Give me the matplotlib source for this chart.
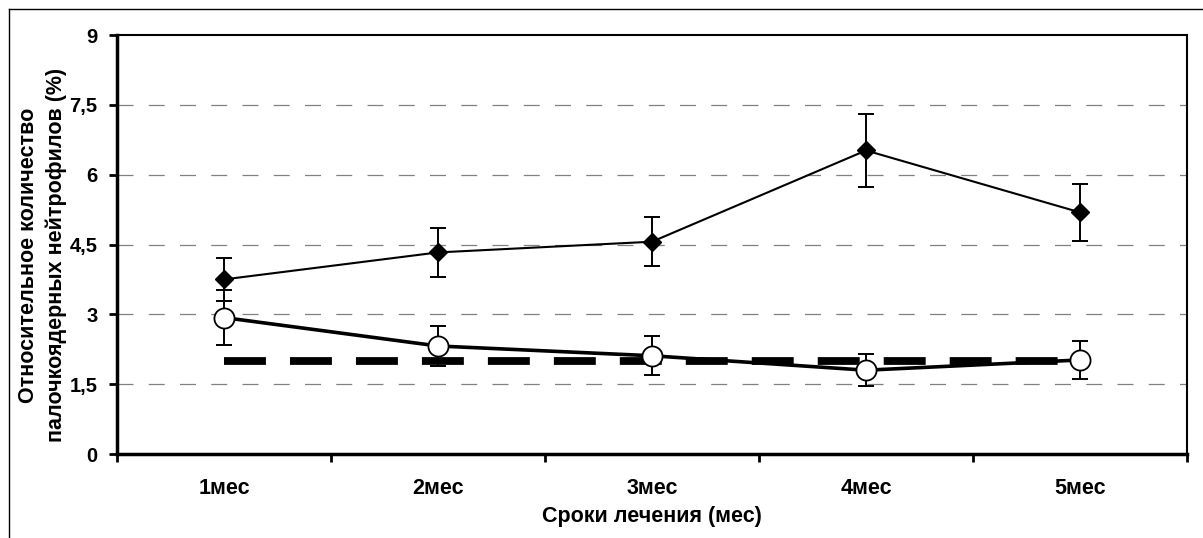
import matplotlib
matplotlib.use("Agg")
import matplotlib.pyplot as plt
import numpy as np
from matplotlib.lines import Line2D

plt.rcParams['font.family'] = ['Liberation Sans', 'DejaVu Sans']
plt.rcParams['font.weight'] = 'bold'
plt.rcParams['lines.scale_dashes'] = False

# ---- data ----
categories = ['1мес', '2мес', '3мес', '4мес', '5мес']
series_a = [3.75, 4.33, 4.56, 6.52, 5.19]      # filled diamonds
series_a_err = [0.46, 0.53, 0.53, 0.79, 0.62]
series_b = [2.93, 2.32, 2.11, 1.80, 2.02]      # open circles
series_b_err = [0.59, 0.43, 0.42, 0.34, 0.40]
norm_line = [2.0, 2.0, 2.0, 2.0, 2.0]          # thick dashed reference
y_ticks = [0, 1.5, 3, 4.5, 6, 7.5, 9]
y_ticklabels = ['0', '1,5', '3', '4,5', '6', '7,5', '9']
x_title = 'Сроки лечения (мес)'
y_title = 'Относительное количество\nпалочкоядерных нейтрофилов (%)'

W, H = 1203, 538
fig = plt.figure(figsize=(W / 100, H / 100), dpi=100)
ax = fig.add_axes([117 / W, 1 - 454 / H, (1187 - 117) / W, (454 - 35) / H])

x = np.arange(len(categories)) + 0.5

# gridlines
for yv in y_ticks[1:-1]:
    ax.axhline(yv, color='#808080', lw=0.9, dashes=(11.5, 11.0), zorder=1)

# reference dashed line
ax.plot(x, norm_line, color='black', lw=5.6, dashes=(30.2, 17.3),
        solid_capstyle='butt', dash_capstyle='butt', zorder=2)

# circle series
ax.errorbar(x, series_b, yerr=series_b_err, fmt='none', ecolor='black',
            elinewidth=1.4, capsize=5.6, capthick=1.4, zorder=3)
ax.plot(x, series_b, color='black', lw=2.6, marker='o', ms=14.5,
        mfc='white', mec='black', mew=1.3, zorder=4)

# diamond series
ax.errorbar(x, series_a, yerr=series_a_err, fmt='none', ecolor='black',
            elinewidth=1.4, capsize=5.6, capthick=1.4, zorder=3)
ax.plot(x, series_a, color='black', lw=1.5, marker='D', ms=9,
        mfc='black', mec='black', zorder=4)

ax.set_xlim(0, 5)
ax.set_ylim(0, 9)
ax.set_yticks(y_ticks)
ax.set_yticklabels(y_ticklabels, fontsize=14.5, fontweight='bold')
ax.set_xticks(np.arange(0, 6), minor=True)
ax.set_xticks(x)
ax.set_xticklabels(categories, fontsize=15.5, fontweight='bold')
ax.tick_params(axis='x', which='major', length=0, pad=17)
ax.tick_params(axis='x', which='minor', length=6, width=2, direction='out')
ax.tick_params(axis='y', which='major', length=6, width=2, direction='out', pad=8)

ax.spines['left'].set_linewidth(2.5)
ax.spines['bottom'].set_linewidth(2.5)
ax.spines['top'].set_linewidth(1.5)
ax.spines['right'].set_linewidth(1.5)

ax.set_xlabel(x_title, fontsize=15.5, fontweight='bold', labelpad=5)

fig.text(42.5 / W, 1 - 255 / H, y_title, rotation=90, ha='center', va='center',
         multialignment='center', fontsize=15.5, fontweight='bold', linespacing=1.4)

# outer frame (left and top edges visible)
fig.add_artist(Line2D([8.5 / W, 8.5 / W], [0, 1 - 8.5 / H], transform=fig.transFigure,
                      color='black', lw=1.0))
fig.add_artist(Line2D([8.5 / W, 1], [1 - 8.5 / H, 1 - 8.5 / H], transform=fig.transFigure,
                      color='black', lw=1.0))

fig.savefig('out.png', dpi=100, facecolor='white')
